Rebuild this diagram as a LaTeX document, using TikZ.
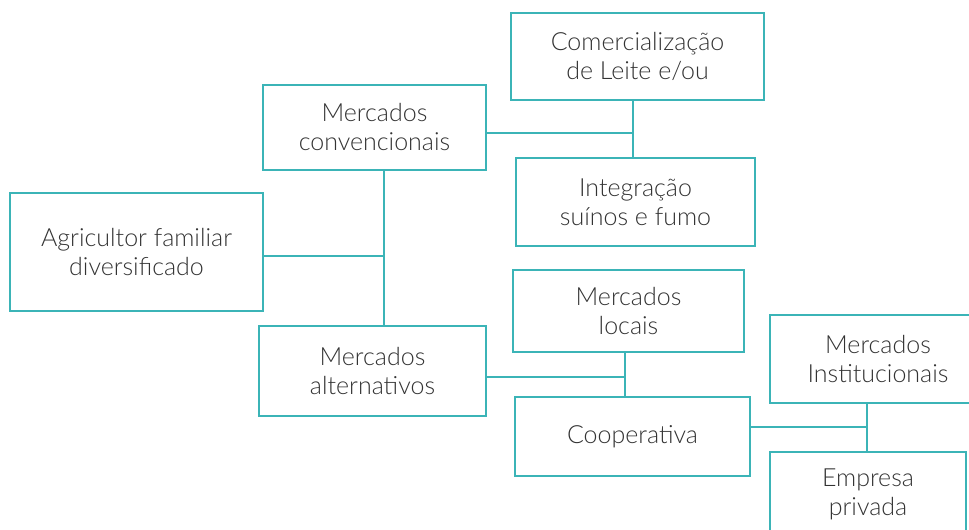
\documentclass[tikz,border=0pt]{standalone}
\usepackage{fontspec}
\setmainfont{Lato}[UprightFont=* Light]
\definecolor{teal1}{HTML}{3BB4B7}
\definecolor{txt}{HTML}{333333}
\begin{document}
\begin{tikzpicture}[x=1pt,y=1pt,
  box/.style={draw=teal1,line width=1.6pt,rectangle,inner sep=0pt,align=center,
    text=txt,font=\fontsize{25}{29}\selectfont},
  conn/.style={draw=teal1,line width=1.6pt}]
\useasboundingbox (0,0) rectangle (969,-530);
\clip (0,0) rectangle (969,-530);
\node[box,minimum width=253,minimum height=87] (comm) at (637.5,-56.5) {Comercialização\\de Leite e/ou};
\node[box,minimum width=223,minimum height=85] (conv) at (374.5,-127.5) {Mercados\\convencionais};
\node[box,minimum width=239,minimum height=88] (integ) at (635.5,-202) {Integração\\suínos e fumo};
\node[box,minimum width=253,minimum height=118] (agri) at (136.5,-252) {Agricultor familiar\\diversificado};
\node[box,minimum width=227,minimum height=90] (alt) at (372.5,-371) {Mercados\\alternativos};
\node[box,minimum width=231,minimum height=82] (locais) at (628.5,-311) {Mercados\\locais};
\node[box,minimum width=216,minimum height=88] (inst) at (878,-359) {Mercados\\Institucionais};
\node[box,minimum width=235,minimum height=79] (coop) at (632.5,-436.5) {Cooperativa};
\node[box,minimum width=196,minimum height=85] (emp) at (868,-494.5) {Empresa\\privada};
\coordinate (v1) at (384,-256);
\coordinate (v2) at (633,-133);
\coordinate (v3) at (625,-377);
\coordinate (v4) at (867,-427);
\draw[conn] (conv.south -| v1) -- (alt.north -| v1);
\draw[conn] (agri.east |- v1) -- (v1);
\draw[conn] (comm.south -| v2) -- (integ.north -| v2);
\draw[conn] (conv.east |- v2) -- (v2);
\draw[conn] (locais.south -| v3) -- (coop.north -| v3);
\draw[conn] (alt.east |- v3) -- (v3);
\draw[conn] (inst.south -| v4) -- (emp.north -| v4);
\draw[conn] (coop.east |- v4) -- (v4);
\end{tikzpicture}
\end{document}
